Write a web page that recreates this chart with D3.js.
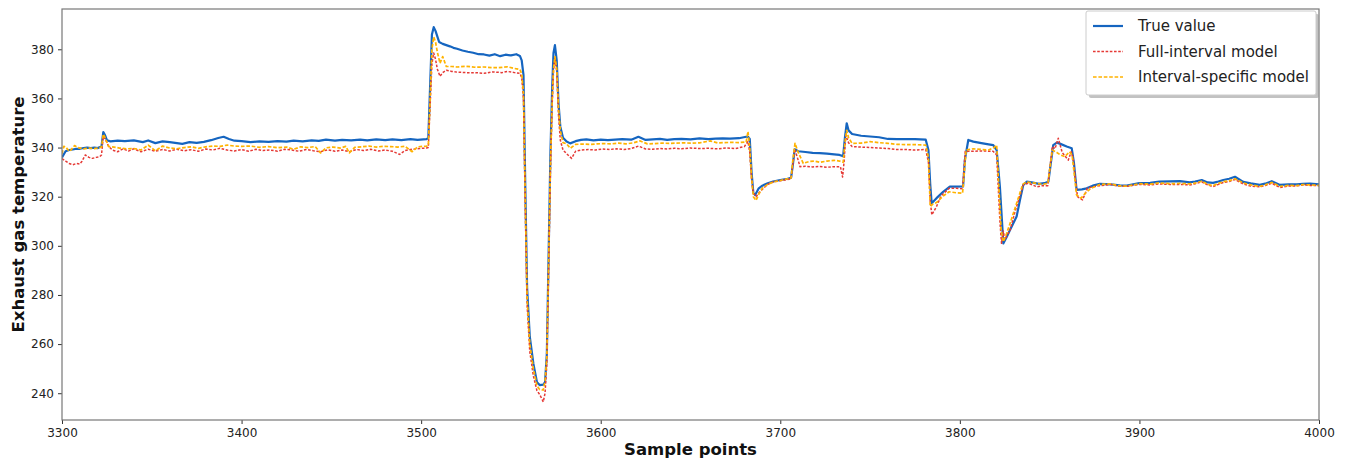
<!DOCTYPE html>
<html><head><meta charset="utf-8">
<script src="https://cdn.jsdelivr.net/npm/d3@7"></script>
<style>body{margin:0;background:#fff;} text{font-family:"DejaVu Sans",sans-serif;}</style>
</head><body><svg id="chart" width="1349" height="459"></svg>
<script>
const xTicks = [3300,3400,3500,3600,3700,3800,3900,4000];
const yTicks = [240,260,280,300,320,340,360,380];
const seriesNames = ["True value","Full-interval model","Interval-specific model"];

const trueValue = [
[3300,336],[3302,338.5],[3304,339],[3306,339.2],[3308,339.5],[3310,339.5],[3312,339.8],[3314,340],[3316,339.8],[3318,340],[3320,339.8],[3322,340.5],[3323,346.3],[3324,345],[3325,343],[3327,342.5],[3331,342.8],[3335,342.6],[3340,342.9],[3345,342.2],[3348,342.9],[3352,341.8],[3356,342.5],[3360,342.2],[3364,341.8],[3367,341.5],[3371,342.2],[3375,341.9],[3379,342.3],[3383,343],[3387,343.9],[3390,344.4],[3393,343.5],[3396,342.8],[3400,342.6],[3405,342.2],[3410,342.5],[3415,342.3],[3420,342.6],[3425,342.4],[3429,342.8],[3434,342.5],[3439,342.9],[3443,342.7],[3447,343.2],[3452,342.8],[3456,343.1],[3461,342.9],[3466,343.2],[3470,342.9],[3475,343.3],[3480,343],[3484,343.3],[3489,343],[3494,343.4],[3498,343.1],[3503,343.4],
[3504,344],[3505,365],[3506,386],[3507,389],[3508,387.5],[3510,383],[3512,382.2],[3514,381.7],[3516,381.2],[3518,380.6],[3520,380.2],[3523,379.5],[3526,379],[3529,378.6],[3532,378],[3535,377.9],[3538,377.4],[3541,378],[3544,377.2],[3547,377.8],[3550,377.5],[3553,378],[3555,377.3],[3556,375.5],[3557,369.5],[3558,324],[3559,283],[3560.5,263],[3562.5,252],[3564.5,244.5],[3566,243.3],[3568,243.5],[3569,244.5],[3570,256],[3571,297],[3572,338],[3573,365],[3573.7,378.5],[3574.5,381.7],[3575.5,375.5],[3576.5,358],[3577.5,348.5],[3579,344],[3581,342.5],[3583,341.7],[3586,342.6],[3589,343.1],[3592,343.3],[3596,342.9],[3600,343.2],[3604,343],[3608,343.2],[3612,343.4],[3617,343.2],[3621,344.4],[3625,343.1],[3629,343.3],[3633,343.5],[3637,343.1],[3641,343.4],[3645,343.5],[3650,343.3],[3655,343.7],[3660,343.4],[3664,343.6],[3668,343.7],[3672,343.6],[3677,343.8],[3681,344.4],
[3682,344.4],[3683,343.5],[3684,330],[3685,321.5],[3686,320.7],[3688,323.4],[3690,324.5],[3693,325.5],[3696,326.2],[3700,326.8],[3704,327.3],[3706,327.7],[3707,333],[3708,339.3],[3710,338.5],[3714,338.2],[3718,337.8],[3722,337.7],[3726,337.5],[3730,337.2],[3733,337],[3735,336.5],[3736,344],[3737,349.9],[3738,347],[3740,345.5],[3745,344.8],[3750,344.5],[3755,344.2],[3760,343.5],[3765,343.4],[3770,343.4],[3775,343.4],[3781,343.2],[3782.5,339],[3783.5,325],[3784.3,317.3],[3787,319.4],[3790.7,322],[3794.4,324.1],[3798,324.1],[3801.8,324.2],[3802.8,335],[3804.7,343.1],[3807.5,342.4],[3812,341.8],[3816,341.3],[3818.6,341],[3820.5,339],[3822.3,324],[3824.2,301],[3826,303.5],[3828,306.5],[3831.6,311.9],[3833.5,318.7],[3835.3,324.8],[3837.2,326.1],[3840,325.8],[3844,325.2],[3847,325.5],[3849.3,326.1],[3852,341],[3854,342],[3856,341.5],[3859.5,340.4],[3862.3,339.7],[3863.5,334],[3865,322.8],[3868,323],[3870.6,323.4],[3874,324.5],[3878,325.2],
[3884,325],[3889,324.6],[3893,324.5],[3900,325.5],[3906,325.6],[3911,326.1],[3917,326.2],[3922.6,326.3],[3928,325.8],[3931,326.2],[3934.7,326.8],[3938,325.8],[3941,325.6],[3944,326.2],[3946.7,326.8],[3950,327.3],[3953.2,328.1],[3957.8,326],[3962,325.4],[3967,324.8],[3970,325.3],[3973.7,326.3],[3978.3,324.8],[3983,325],[3987.6,325],[3991,325.2],[3995,325.3],[4000,325]
];

const fullInterval = [
[3300,335.5],[3302,334.5],[3304,333.5],[3306,333],[3308,333.5],[3310,333.3],[3311,334.3],[3313,337],[3315,336],[3317,335.6],[3319,336],[3321,336.3],[3322,337],[3323,344.5],[3324,343.5],[3326,340.5],[3328,339],[3331,338.3],[3334,339.5],[3337,338.6],[3340,339.5],[3344,338.3],[3348,339.3],[3352,338.5],[3356,339.2],[3360,338.6],[3364,339.3],[3368,338.7],[3372,339.1],[3376,338.5],[3380,339.4],[3384,339],[3388,339.7],[3392,339],[3396,338.6],[3400,339.2],[3404,338.5],[3408,339.3],[3412,338.8],[3416,339],[3420,338.5],[3424,339.3],[3428,339],[3432,338.5],[3436,339.2],[3440,338.7],[3444,338.3],[3448,339.1],[3452,338.5],[3456,339],[3460,338.3],[3464,339.2],[3468,338.8],[3472,339.3],[3476,338.6],[3480,339],[3484,338.5],[3488,337.2],[3491,338.8],[3495,339.3],[3499,339.6],[3503,339.8],
[3504,340],[3505,357],[3506,374],[3507,378.5],[3508,376],[3509,372],[3510.5,369],[3512,370.5],[3514,371.5],[3517,371],[3520,370.7],[3525,370.5],[3530,370.5],[3535,370.2],[3540,370.8],[3545,370.5],[3548,371],[3552,370.5],[3555,370.2],[3556,368.5],[3557,360],[3558,315],[3559,276],[3560.5,257],[3562.5,247],[3564.5,241],[3566,239.5],[3567,238],[3568,236.5],[3569,240],[3570,252],[3571,290],[3572,330],[3573,358],[3573.7,371],[3574.5,376.5],[3575.5,371],[3576.5,353],[3577.5,343],[3579,339],[3581,337.5],[3583.8,335.6],[3586,338.5],[3589,339],[3593,339.2],[3597,339],[3601,339.4],[3605,339.2],[3609,339.5],[3613,339.2],[3617,339.6],[3621,340.6],[3625,339.4],[3629,339.3],[3633,339.6],[3637,339.4],[3641,339.7],[3645,339.5],[3650,339.8],[3655,339.6],[3660,339.7],[3665,339.5],[3670,339.8],[3675,339.6],[3680,340.4],
[3682,342.5],[3683,338],[3684,327],[3685,321.5],[3686.5,320],[3688,321.5],[3690,323],[3693,325],[3696,326],[3700,326.5],[3704,327],[3706,327.3],[3707,333],[3708,339.3],[3709.5,336],[3711,332.2],[3714,332.4],[3718,332.1],[3722,332.3],[3726,332],[3730,332.2],[3733.5,332.2],[3734.7,328],[3735.5,334],[3736.5,345],[3738,342],[3740,340.4],[3745,340.2],[3750,340],[3755,339.8],[3760,339.6],[3765,339.2],[3770,339.2],[3775,339],[3781,339.2],[3782.5,334],[3783.5,318],[3784.4,312.6],[3787,316],[3789.5,320.3],[3794,323.4],[3798,323.4],[3801.5,323.2],[3803,338.5],[3807,338.5],[3812,338.6],[3818.5,338.5],[3820.5,337],[3822.3,310],[3823.2,301],[3824.2,306],[3825,302.5],[3828,306.5],[3830.5,313.3],[3835.3,324.8],[3838,325.5],[3843,324],[3846,324.5],[3849,324.5],[3851.5,340.4],[3853,339.5],[3854.8,343.8],[3857,338],[3860.4,334.9],[3862,338.3],[3863,336],[3865.5,320],[3868.3,318.7],[3871,323.4],[3874,324],[3878,324.5],
[3884,325],[3889,324.2],[3893,324.2],[3900,325],[3906,324.8],[3911,325.2],[3917,325],[3922.6,325],[3928,324.8],[3931,325.3],[3934.7,326],[3938,324.8],[3941,324.1],[3944,325],[3946.7,325.8],[3950,326.2],[3953.2,327],[3957.8,325.2],[3962,324.3],[3967,324],[3970,324.5],[3973.7,325.5],[3978.3,323.7],[3983,324.4],[3987.6,324.4],[3991,324.8],[3995,324.6],[4000,324.5]
];

const intervalSpecific = [
[3300,337.5],[3301,340.5],[3302,340.3],[3304,338.5],[3305,339],[3307,340.8],[3309,340],[3312,339.5],[3315,339.8],[3318,339.6],[3320,339.8],[3322,340.2],[3323,345.5],[3324,344],[3326,340.4],[3329,340.2],[3332,339.8],[3336,339.5],[3340,339.6],[3344,339],[3348,341],[3352,338.7],[3356,340.6],[3360,339.8],[3364,339.5],[3368,340],[3372,340.3],[3376,339.7],[3380,340.3],[3384,340.6],[3388,340.5],[3392,341],[3396,340.6],[3400,340.5],[3405,340.6],[3410,340.1],[3415,340.4],[3420,339.9],[3425,340.2],[3429,339.3],[3433,340.3],[3437,340],[3441,340.4],[3444,337.8],[3447,339.9],[3451,340.2],[3455,339.8],[3458,340.5],[3460,337.8],[3463,340.1],[3467,340.3],[3471,340.6],[3475,340.2],[3479,340.5],[3483,340.4],[3487,340.2],[3491,340.5],[3495,338.3],[3498,340.3],[3503,340.6],
[3504,340.8],[3505,360],[3506,380],[3507,385],[3508,383],[3509,379],[3510.5,374.3],[3512,377],[3514,373],[3517,373],[3520,372.8],[3525,373.1],[3530,372.7],[3535,372.8],[3540,372.5],[3545,372.6],[3548,372.9],[3552,372.2],[3555,371.8],[3556,370],[3557,362],[3558,318],[3559,279],[3560.5,260],[3562.5,250],[3564.5,243],[3566,241.5],[3568,241.3],[3569,245],[3570,255],[3571,294],[3572,333],[3573,360],[3573.7,372],[3574.5,377],[3575.5,372],[3576.5,356],[3577.5,347],[3579,342],[3581,341.5],[3583,339.7],[3586,341.3],[3590,341.4],[3594,341.3],[3598,341.5],[3602,341.6],[3606,341.5],[3610,341.8],[3614,341.5],[3618,341.9],[3622,342.7],[3626,341.5],[3630,341.6],[3634,341.8],[3638,341.7],[3642,341.8],[3646,341.9],[3650,341.8],[3655,341.9],[3661,342.7],[3665,341.9],[3669,342],[3673,342.1],[3677,342],[3681,342.3],
[3682,346.5],[3683,340],[3684,328],[3685,320],[3686.5,318.5],[3688,321],[3690,323.5],[3693,325],[3696,326],[3700,326.6],[3704,327.3],[3706,327.5],[3707,335],[3708.2,341.7],[3710,338],[3712.8,333.6],[3716,334.3],[3719,334.5],[3722,334],[3726,334.5],[3730,334.8],[3733,334.5],[3735,334],[3736,342],[3737,347],[3738,344],[3740,341.7],[3745,341.8],[3750,342.4],[3755,342],[3760,341.7],[3765,341.3],[3770,341.2],[3775,341.2],[3781,341],[3782.5,336],[3783.5,316],[3785,317],[3787,317.6],[3790.7,320.3],[3794,322],[3798,321.6],[3801.5,321.4],[3802.5,330],[3803.5,339],[3807.5,339.5],[3812,339.2],[3816,339],[3819,340],[3820.5,341],[3822,320],[3823,306.4],[3824.2,301.7],[3826,305],[3828,309.2],[3831.6,317.3],[3835,325],[3837,326],[3842,325.5],[3846,325],[3849,325.4],[3851.5,339],[3854,338],[3856,337],[3858.5,336.3],[3861,338.3],[3862.5,337],[3865,320.7],[3867.5,319.4],[3870,321.5],[3873,323.4],[3878,325],
[3884,325.2],[3889,324.4],[3893,324.3],[3900,325.3],[3906,325.1],[3911,325.6],[3917,325.3],[3922.6,325.4],[3928,325.2],[3931,325.5],[3934.7,326.3],[3938,325],[3941,324.5],[3944,325.4],[3946.7,326.1],[3950,326.5],[3953.2,327.3],[3957.8,325.6],[3962,324.8],[3967,324.2],[3970,324.8],[3973.7,325.8],[3978.3,324.2],[3983,324.6],[3987.6,324.5],[3991,324.9],[3995,324.8],[4000,324.6]
];

const svg = d3.select("#chart");
const L = 62, R = 1319, T = 9, B = 420;
const x = d3.scaleLinear().domain([3300, 4000]).range([L, R]);
const y = d3.scaleLinear().domain([229.1, 396.4]).range([B, T]);

const styles = [
  {data: trueValue, color: "#1565c0", width: 2.2, dash: null},
  {data: fullInterval, color: "#e53935", width: 1.5, dash: "2.6,1.6"},
  {data: intervalSpecific, color: "#ffb300", width: 1.7, dash: "3.6,1.8"}
];

svg.append("defs").append("clipPath").attr("id","clip")
  .append("rect").attr("x",L).attr("y",T).attr("width",R-L).attr("height",B-T);

const line = d3.line().x(d => x(d[0])).y(d => y(d[1]));
const g = svg.append("g").attr("clip-path","url(#clip)");
styles.forEach(s => {
  g.append("path").datum(s.data).attr("d", line)
    .attr("fill","none").attr("stroke", s.color).attr("stroke-width", s.width)
    .attr("stroke-linejoin","round")
    .attr("stroke-dasharray", s.dash);
});

const xAxis = svg.append("g").attr("transform",`translate(0,${B})`)
  .call(d3.axisBottom(x).tickValues(xTicks).tickFormat(d3.format("d")).tickSize(4).tickPadding(4));
const yAxis = svg.append("g").attr("transform",`translate(${L},0)`)
  .call(d3.axisLeft(y).tickValues(yTicks).tickFormat(d3.format("d")).tickSize(4).tickPadding(4));
[xAxis, yAxis].forEach(a => {
  a.select(".domain").remove();
  a.selectAll(".tick line").attr("stroke","#333");
  a.selectAll(".tick text").attr("font-size","12px").attr("fill","#222").attr("font-family","DejaVu Sans");
});

svg.append("rect").attr("x",L).attr("y",T).attr("width",R-L).attr("height",B-T)
  .attr("fill","none").attr("stroke","#777").attr("stroke-width",1.2);

svg.append("text").attr("x",(L+R)/2).attr("y",455).attr("text-anchor","middle")
  .attr("font-size","16.5px").attr("font-weight","bold").attr("fill","#111").text("Sample points");
svg.append("text").attr("transform",`translate(24,${(T+B)/2}) rotate(-90)`).attr("text-anchor","middle")
  .attr("font-size","16.5px").attr("font-weight","bold").attr("fill","#111").text("Exhaust gas temperature");

// legend
const lg = svg.append("g").attr("transform","translate(1086,11)");
lg.append("rect").attr("x",3).attr("y",3).attr("width",230).attr("height",84).attr("rx",2).attr("fill","#999").attr("opacity",0.6);
lg.append("rect").attr("x",0).attr("y",0).attr("width",230).attr("height",84).attr("rx",2)
  .attr("fill","#fff").attr("stroke","#ccc");
styles.forEach((s, i) => {
  const yy = 15 + i * 25.5;
  lg.append("line").attr("x1",7).attr("x2",37).attr("y1",yy).attr("y2",yy)
    .attr("stroke",s.color).attr("stroke-width",s.width).attr("stroke-dasharray",s.dash);
  lg.append("text").attr("x",52).attr("y",yy+5).attr("font-size","15px").attr("fill","#222").text(seriesNames[i]);
});
</script></body></html>
